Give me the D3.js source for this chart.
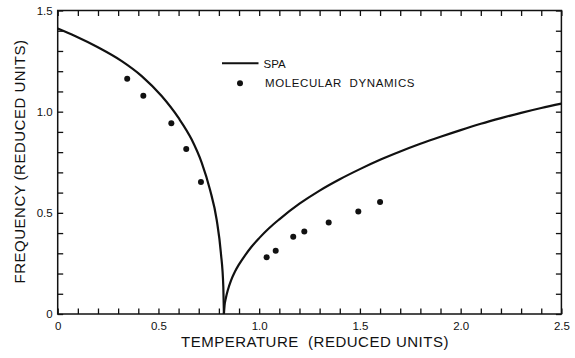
<!DOCTYPE html>
<html>
<head>
<meta charset="utf-8">
<script src="https://cdn.jsdelivr.net/npm/d3@7"></script>
<style>
	body { margin: 0; background: #fff; }
	text { font-family: "Liberation Sans", Arial, sans-serif; fill: #111; }
</style>
</head>
<body>
<div id="chart"></div>
<script>
// SPA curve, below Tc (ordered phase)
var spaLowT = [0, 0.086, 0.202, 0.318, 0.417, 0.516, 0.599, 0.665, 0.715, 0.756, 0.789, 0.810, 0.822, 0.825];
var spaLowF = [1.411, 1.374, 1.317, 1.250, 1.176, 1.077, 0.970, 0.862, 0.747, 0.614, 0.466, 0.301, 0.135, 0];

// SPA curve, above Tc
var spaHighT = [0.825, 0.828, 0.835, 0.845, 0.860, 0.880, 0.900, 0.930, 0.960, 1.000, 1.050, 1.100, 1.200, 1.300, 1.400, 1.500, 1.600, 1.700, 1.800, 1.900, 2.000, 2.100, 2.200, 2.300, 2.400, 2.500];
var spaHighF = [0, 0.040, 0.080, 0.120, 0.165, 0.210, 0.245, 0.290, 0.330, 0.375, 0.425, 0.468, 0.545, 0.610, 0.666, 0.716, 0.762, 0.803, 0.841, 0.876, 0.909, 0.940, 0.968, 0.994, 1.018, 1.040];

// molecular dynamics points
var mdT = [0.345, 0.425, 0.564, 0.638, 0.711, 1.037, 1.082, 1.169, 1.224, 1.345, 1.492, 1.600];
var mdF = [1.163, 1.079, 0.943, 0.816, 0.652, 0.281, 0.312, 0.382, 0.408, 0.452, 0.507, 0.553];

var xLabelValues = [0, 0.5, 1.0, 1.5, 2.0, 2.5];
var xLabels = ["0", "0.5", "1.0", "1.5", "2.0", "2.5"];
var yLabelValues = [0, 0.5, 1.0, 1.5];
var yLabels = ["0", "0.5", "1.0", "1.5"];

var legendNames = ["SPA", "MOLECULAR  DYNAMICS"];

function drawChart(){
	let width = 575, height = 358;
	let margin = {top: 10.5, right: 13.6, bottom: 44, left: 57.7};
	let w = width - margin.left - margin.right;
	let h = height - margin.top - margin.bottom;

	let svg = d3.select("#chart").append("svg")
		.attr("width", width)
		.attr("height", height);

	let g = svg.append("g")
		.attr("transform", "translate(" + margin.left + "," + margin.top + ")");

	let x = d3.scaleLinear().domain([0, 2.5]).range([0, w]);
	let y = d3.scaleLinear().domain([0, 1.5]).range([h, 0]);

	let xTicks = d3.range(0, 26).map(function(i){ return i / 10; });
	let yTicks = d3.range(0, 16).map(function(i){ return i / 10; });

	function xFmt(d){
		let i = xLabelValues.findIndex(function(v){ return Math.abs(v - d) < 1e-6; });
		return i < 0 ? "" : xLabels[i];
	}
	function yFmt(d){
		let i = yLabelValues.findIndex(function(v){ return Math.abs(v - d) < 1e-6; });
		return i < 0 ? "" : yLabels[i];
	}

	// inward ticks on all four sides
	let axB = g.append("g").attr("transform", "translate(0," + h + ")")
		.call(d3.axisBottom(x).tickValues(xTicks).tickSizeInner(-5.5).tickSizeOuter(0).tickPadding(8).tickFormat(xFmt));
	let axT = g.append("g")
		.call(d3.axisTop(x).tickValues(xTicks).tickSizeInner(-5.5).tickSizeOuter(0).tickFormat(""));
	let axL = g.append("g")
		.call(d3.axisLeft(y).tickValues(yTicks).tickSizeInner(-5.5).tickSizeOuter(0).tickPadding(5).tickFormat(yFmt));
	let axR = g.append("g").attr("transform", "translate(" + w + ",0)")
		.call(d3.axisRight(y).tickValues(yTicks).tickSizeInner(-5.5).tickSizeOuter(0).tickFormat(""));

	[axB, axT, axL, axR].forEach(function(a){
		a.select(".domain").remove();
		a.selectAll("line").attr("stroke", "#111").attr("stroke-width", 1.3);
		a.selectAll("text").style("font-size", "11.5px").style("font-family", "'Liberation Sans', Arial, sans-serif").attr("fill", "#111");
	});

	g.append("rect")
		.attr("width", w)
		.attr("height", h)
		.attr("fill", "none")
		.attr("stroke", "#111")
		.attr("stroke-width", 1.5);

	let line = d3.line()
		.x(function(d){ return x(d[0]); })
		.y(function(d){ return y(d[1]); })
		.curve(d3.curveMonotoneX);

	let low = spaLowT.map(function(t, i){ return [t, spaLowF[i]]; });
	let high = spaHighT.map(function(t, i){ return [t, spaHighF[i]]; });

	g.selectAll(".spa")
		.data([low, high])
		.enter().append("path")
		.attr("class", "spa")
		.attr("d", line)
		.attr("fill", "none")
		.attr("stroke", "#111")
		.attr("stroke-width", 2.2);

	g.selectAll(".md")
		.data(mdT.map(function(t, i){ return [t, mdF[i]]; }))
		.enter().append("circle")
		.attr("class", "md")
		.attr("cx", function(d){ return x(d[0]); })
		.attr("cy", function(d){ return y(d[1]); })
		.attr("r", 3)
		.attr("fill", "#111");

	// legend
	let legend = svg.append("g").attr("transform", "translate(222,63.3)");
	legend.append("line")
		.attr("x1", 0).attr("x2", 36.5)
		.attr("y1", 0).attr("y2", 0)
		.attr("stroke", "#111")
		.attr("stroke-width", 2);
	legend.append("text")
		.attr("x", 41.5).attr("y", 4.2)
		.style("font-size", "11.5px")
		.text(legendNames[0]);
	legend.append("circle")
		.attr("cx", 18).attr("cy", 20)
		.attr("r", 3)
		.attr("fill", "#111");
	legend.append("text")
		.attr("x", 43).attr("y", 24.2)
		.style("font-size", "11.5px")
		.style("letter-spacing", "0.6px")
		.style("white-space", "pre")
		.text(legendNames[1]);

	// axis titles
	svg.append("text")
		.attr("x", 315)
		.attr("y", 346.5)
		.attr("text-anchor", "middle")
		.style("font-size", "15px")
		.style("letter-spacing", "0.5px")
		.style("white-space", "pre")
		.text("TEMPERATURE  (REDUCED UNITS)");

	svg.append("text")
		.attr("transform", "translate(24.5,161.5) rotate(-90)")
		.attr("text-anchor", "middle")
		.style("font-size", "15px")
		.style("letter-spacing", "0.5px")
		.text("FREQUENCY (REDUCED UNITS)");
}

drawChart();
</script>
</body>
</html>
